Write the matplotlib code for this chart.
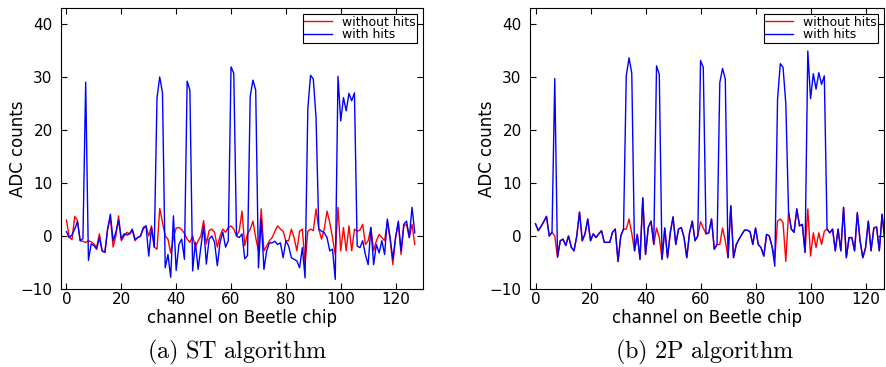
import matplotlib
matplotlib.use('Agg')
import matplotlib.pyplot as plt
import numpy as np

channels = np.arange(128)

# ST algorithm
st_without = [3.0, -0.2, -0.7, 3.7, 2.9, -0.9, -1.0, -1.2, -0.9, -1.1,
              -1.5, -2.1, 0.4, -2.8, -3.1, 1.3, 3.5, -2.1, 0.0, 3.8,
              -0.9, 0.0, 0.7, 0.4, 1.0, -0.9, -0.3, 0.0, 1.3, 1.9,
              0.0, 1.9, -2.1, -2.5, 5.2, 2.6, 0.0, -0.6, -3.2, -0.3,
              1.5, 1.6, 1.2, 0.5, -0.6, -1.2, 0.0, -2.1, -0.9, 0.0,
              2.9, -1.5, 1.0, 1.3, 0.7, -2.1, 0.0, 1.3, 0.7, 1.6,
              1.9, 1.3, 0.0, 1.0, 4.7, -1.8, 0.4, 1.3, 2.8, -0.3,
              -2.8, 5.1, -2.8, -1.9, -0.9, -0.3, 0.9, 1.9, 1.3, 0.9,
              -0.9, -0.9, 1.3, -0.3, -2.8, 0.9, 1.3, -5.1, 0.9, 1.3,
              1.0, 5.1, 1.3, -0.6, 1.3, 4.7, 2.5, -0.3, -3.5, 5.4,
              -2.8, 1.6, -2.8, 1.9, -2.8, 1.3, 0.9, 1.1, 2.2, -1.6,
              -0.9, 1.6, -2.8, -0.9, 0.3, -0.3, -0.9, 2.8, -0.6, -5.4,
              -0.3, 2.5, -3.5, 1.9, 2.2, -0.3, 2.2, -1.6]
st_with = [0.8, -0.3, 0.2, 1.3, 2.7, -0.9, -0.5, 29.0, -4.6, -1.5,
           -1.8, -2.5, -0.3, -2.8, -3.1, 1.3, 4.1, -0.9, 0.7, 2.9,
           -0.6, 0.4, 0.2, 0.4, 1.3, -0.6, -0.3, 0.0, 1.6, 1.9,
           -3.8, 1.6, -2.1, 26.0, 30.0, 27.0, -6.0, -3.5, -7.8, 3.8,
           -6.5, -1.6, -0.6, -4.4, 29.2, 27.5, -6.6, -1.2, -6.3, -2.1,
           1.9, -5.3, -0.6, 0.0, -1.2, -5.6, -1.2, 0.7, -2.1, -0.9,
           31.9, 30.7, 0.0, -0.3, 0.4, -4.3, -3.7, 26.4, 29.4, 27.5,
           -6.0, 3.2, -6.3, -2.8, -1.3, -1.3, -1.0, -1.6, -1.3, -4.1,
           -0.9, -1.9, -4.1, -4.4, -4.7, -6.0, -2.2, -7.9, 24.0, 30.3,
           29.6, 22.3, 1.3, 0.9, 0.6, -0.3, -2.8, -2.5, -8.2, 30.1,
           21.7, 26.1, 23.6, 26.9, 25.5, 27.0, -1.9, -2.2, -0.9, -3.5,
           -5.4, 1.6, -5.4, -1.6, -3.2, -0.9, -3.5, 3.2, -0.3, -4.4,
           -0.3, 2.8, -2.8, 2.2, 2.8, -0.3, 5.4, 0.6]

# 2P algorithm
tp_without = [2.3, 1.0, 1.8, 2.7, 3.7, 0.0, 0.7, 0.0, -4.0, -0.9,
              -0.6, -1.8, 0.0, -2.1, -2.8, 0.0, 4.5, -0.9, 0.4, 3.2,
              -0.9, 0.4, -0.3, 0.4, 1.0, -1.2, -1.2, -1.2, 0.7, 1.3,
              -4.8, 0.0, 1.3, 1.3, 3.2, 0.5, -2.8, 0.3, -4.4, 7.2,
              -3.5, 1.6, 2.8, -1.6, 1.5, -0.3, -4.4, 1.5, -4.1, 0.6,
              3.6, -1.6, 1.3, 1.6, -0.3, -4.1, 0.6, 2.8, -0.9, 0.0,
              2.7, 1.5, 0.4, 0.6, 3.2, -2.5, -1.6, -1.6, 1.5, -0.9,
              -4.1, 5.7, -4.1, -1.6, -0.6, 0.3, 1.1, 1.1, 0.8, -1.6,
              1.5, -1.6, -2.2, -3.8, 0.3, 0.0, -2.0, -4.1, 2.8, 3.2,
              2.5, -4.8, 4.5, 1.3, 0.7, 5.1, 1.9, 2.2, -3.1, 5.1,
              -3.8, 0.6, -2.2, 0.6, -1.6, 0.9, 1.3, 0.6, 1.3, -2.8,
              1.3, -2.8, 5.4, -4.1, -0.3, -0.3, -2.8, 4.4, -0.9, -4.1,
              -2.2, 2.8, -2.8, 1.5, 1.7, -2.8, 4.1, -0.9]
tp_with = [2.3, 1.0, 1.8, 2.7, 3.7, 0.0, 0.7, 29.7, -4.0, -0.9,
           -0.6, -1.8, 0.0, -2.1, -2.8, 0.0, 4.5, -0.9, 0.4, 3.2,
           -0.9, 0.4, -0.3, 0.4, 1.0, -1.2, -1.2, -1.2, 0.7, 1.3,
           -4.8, 0.0, 1.3, 30.2, 33.6, 30.7, -2.8, 0.3, -4.4, 7.2,
           -3.5, 1.6, 2.8, -1.6, 32.1, 30.5, -4.4, 1.5, -4.1, 0.6,
           3.6, -1.6, 1.3, 1.6, -0.3, -4.1, 0.6, 2.8, -0.9, 0.0,
           33.1, 31.8, 0.4, 0.6, 3.2, -2.5, -1.6, 28.9, 31.6, 29.6,
           -4.1, 5.7, -4.1, -1.6, -0.6, 0.3, 1.1, 1.1, 0.8, -1.6,
           1.5, -1.6, -2.2, -3.8, 0.3, 0.0, -2.0, -5.7, 25.8, 32.5,
           31.8, 25.0, 4.5, 1.3, 0.7, 5.1, 1.9, 2.2, -3.1, 34.9,
           25.9, 30.6, 27.7, 30.8, 28.6, 30.2, 1.3, 0.6, 1.3, -2.8,
           1.3, -2.8, 5.4, -4.1, -0.3, -0.3, -2.8, 4.4, -0.9, -4.1,
           -2.2, 2.8, -2.8, 1.5, 1.7, -2.8, 4.1, -0.9]

xticks = [0, 20, 40, 60, 80, 100, 120]
yticks = [-10, 0, 10, 20, 30, 40]

plt.rcParams['mathtext.fontset'] = 'cm'
fig = plt.figure(figsize=(8.86, 3.67), dpi=100)
ax1 = fig.add_axes([61/886, 78/367, 362/886, 281/367])
ax2 = fig.add_axes([530/886, 78/367, 354/886, 281/367])

panels = [(ax1, st_without, st_with, (-2, 130), r'$\mathrm{(a)\ ST\ algorithm}$', 237, 362),
          (ax2, tp_without, tp_with, (-2, 126.7), r'$\mathrm{(b)\ 2P\ algorithm}$', 705, 354)]

for ax, wo, wi, xl, cap, cx, w in panels:
    ax.plot(channels, wo, color='red', lw=1.0, label='without hits')
    ax.plot(channels, wi, color='blue', lw=1.0, label='with hits')
    ax.set_xlim(*xl)
    ax.set_ylim(-10, 43)
    ax.set_xticks(xticks)
    ax.set_yticks(yticks)
    ax.tick_params(direction='in', top=True, right=True, length=4, labelsize=11)
    ax.tick_params(axis='x', pad=2)
    ax.tick_params(axis='y', pad=6)
    ax.set_xlabel('channel on Beetle chip', fontsize=12)
    ax.set_ylabel('ADC counts', fontsize=12)
    ax.xaxis.set_label_coords(0.5, -34/281, transform=ax.transAxes)
    ax.yaxis.set_label_coords(-43/w, 0.5, transform=ax.transAxes)
    ax.xaxis.label.set_va('baseline')
    ax.yaxis.label.set_va('center')
    leg = ax.legend(loc='upper right', fontsize=9, fancybox=False, framealpha=1,
                    edgecolor='black', borderpad=0.1, labelspacing=0.0,
                    handlelength=2.2, borderaxespad=0.5)
    leg.get_frame().set_linewidth(0.8)
    fig.text(cx/886, 15/367, cap, fontsize=17.5, ha='center', va='center')

fig.savefig('out.png', dpi=100)
